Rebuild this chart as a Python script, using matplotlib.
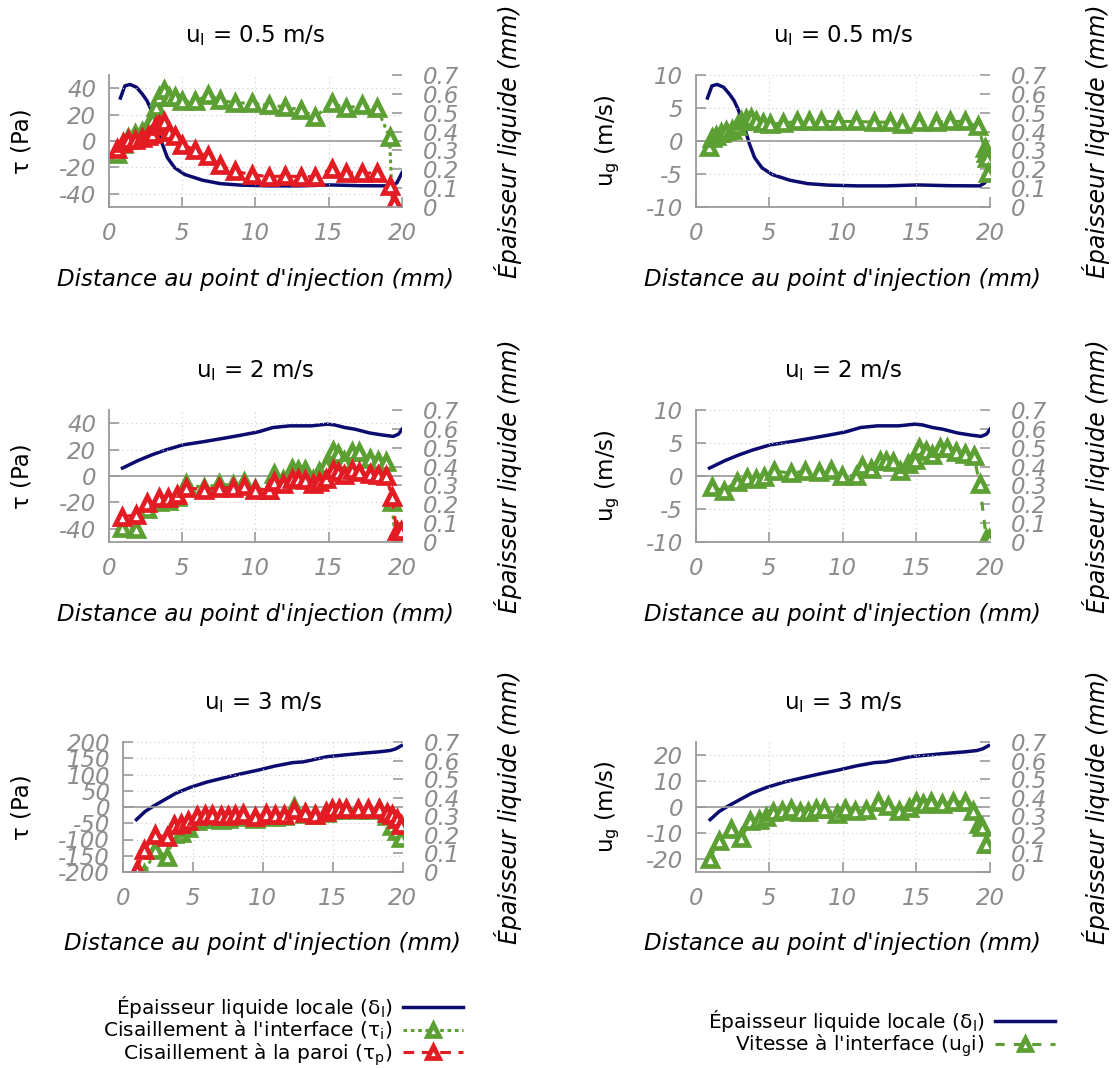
import numpy as np
import matplotlib.pyplot as plt
from matplotlib.ticker import FormatStrFormatter
from matplotlib.font_manager import FontProperties

plt.rcParams['font.family'] = 'DejaVu Sans'
plt.rcParams['mathtext.default'] = 'regular'
plt.rcParams['axes.unicode_minus'] = False

W, H = 1112, 1068

navy = '#0b0b70'
green = '#5c9f33'
red = '#e31b23'
grey = '#8c8c8c'

# ---- u_l = 0.5 m/s ----
x_delta_05 = [0.8, 1.1, 1.45, 1.9, 2.3, 2.6, 2.9, 3.3, 3.65, 4.0, 4.5, 5.2, 6.4, 7.6,
              9.0, 11.0, 13.0, 15.1, 17.2, 19.3, 19.65, 20.0]
delta_05 = [0.578, 0.642, 0.650, 0.635, 0.598, 0.565, 0.515, 0.425, 0.335, 0.262, 0.208,
            0.172, 0.142, 0.124, 0.116, 0.112, 0.112, 0.117, 0.113, 0.112, 0.128, 0.182]
x_tau_05 = [0.6, 0.95, 1.35, 1.8, 2.25, 2.65, 2.95, 3.2, 3.45, 3.75, 4.1, 4.55, 5.0, 5.9,
            6.8, 7.6, 8.6, 9.8, 10.9, 12.0, 13.1, 14.1, 15.2, 16.2, 17.25, 18.3, 19.15, 19.45]
tau_i_05 = [-10, -2, 2, 5, 7, 11, 16, 26, 33, 39, 33, 33, 30, 30,
            35, 31, 29, 28.5, 27, 26, 23.5, 18.5, 28.5, 25, 27, 25, 3, -75]
tau_p_05 = [-6, -1.5, 1, 1, 2.5, 4, 5.5, 11, 12.5, 14.5, 6.5, 4, -3, -6.5,
            -11.5, -18.5, -23, -25.5, -27, -26.5, -27, -27, -21, -24, -24, -24.5, -34, -47]
x_ug_05 = [0.88, 1.12, 1.36, 1.72, 2.08, 2.44, 2.8, 3.08, 3.4, 3.75, 4.1, 4.6, 5.07, 5.9,
           6.86, 7.7, 8.5, 9.7, 10.9, 12.1, 13.2, 14.0, 15.2, 16.3, 17.25, 18.3, 19.16,
           19.64, 19.72, 19.8, 19.85]
ug_05 = [-0.9, 0.45, 0.7, 1.2, 1.46, 1.7, 2.2, 2.96, 3.3, 3.47, 3.07, 2.8, 2.56, 2.7,
         2.96, 2.96, 2.96, 2.96, 2.96, 2.86, 2.86, 2.56, 2.86, 2.86, 2.96, 2.96, 2.2,
         -1.05, -1.8, -2.5, -4.8]

# ---- u_l = 2 m/s ----
x_delta_2 = [0.94, 2.0, 2.94, 3.88, 5.06, 6.47, 7.9, 9.06, 10.2, 11.2, 12.35, 13.8, 14.9,
             15.4, 16.1, 16.8, 17.8, 18.7, 19.4, 19.76, 20.0]
delta_2 = [0.392, 0.432, 0.462, 0.488, 0.515, 0.532, 0.551, 0.567, 0.584, 0.607, 0.616,
           0.616, 0.625, 0.621, 0.607, 0.598, 0.578, 0.567, 0.56, 0.572, 0.598]
x_tau_2 = [0.94, 1.88, 2.6, 3.45, 4.05, 4.65, 5.3, 6.47, 7.5, 8.47, 9.2, 10.0, 10.9, 11.3,
           11.9, 12.5, 12.94, 13.4, 13.9, 14.35, 14.8, 15.3, 15.65, 16.07, 16.6, 17.1,
           17.8, 18.35, 18.94, 19.3, 19.65, 19.95]
tau_i_2 = [-39.5, -40, -25, -19.5, -19, -16, -6, -8.8, -6.3, -7, -4.5, -9.5, -10.3, 1.2,
           -2.8, 5, 4.3, 4.3, -2.8, 3, 8, 19, 16.5, 11.5, 18, 18,
           13, 11.5, 10.5, -19.5, -60, -75]
tau_p_2 = [-30.8, -29.5, -20.8, -17, -16.3, -14.5, -8.8, -10.3, -8.8, -8.8, -7.8, -10.3,
           -10.3, -4.5, -5.8, -2, -2.5, -2.8, -6.3, -4.5, -2, 4.8, 3, 0.5, 4.3, 3,
           1.2, 0.5, -0.3, -15.8, -42, -42]
x_ug_2 = [1.08, 1.89, 2.8, 3.5, 4.1, 4.66, 5.3, 6.5, 7.45, 8.4, 9.2, 9.96, 10.87, 11.28,
          11.9, 12.5, 12.95, 13.4, 13.9, 14.4, 14.9, 15.2, 15.65, 16.06, 16.6, 17.1,
          17.7, 18.3, 18.9, 19.3, 19.75, 19.9]
ug_2 = [-1.7, -2.2, -0.85, -0.3, -0.45, -0.2, 0.8, 0.4, 0.8, 0.55, 0.9, 0.05, 0.05, 1.56,
        1.05, 2.2, 2.2, 2.06, 0.8, 1.8, 2.4, 4.3, 3.8, 3.2, 4.3, 4.2,
        3.57, 3.3, 3.07, -1.2, -9.5, -9.5]

# ---- u_l = 3 m/s ----
x_delta_3 = [0.98, 1.6, 2.2, 2.94, 3.8, 4.8, 6.0, 7.24, 8.47, 9.7, 10.9, 12.15, 12.9,
             14.6, 15.8, 17.05, 18.3, 19.1, 19.5, 19.9]
delta_3 = [0.282, 0.326, 0.355, 0.387, 0.424, 0.455, 0.484, 0.507, 0.529, 0.549, 0.571,
           0.589, 0.593, 0.621, 0.63, 0.639, 0.647, 0.654, 0.663, 0.68]
x_tau_3 = [1.0, 1.55, 2.33, 3.19, 3.68, 4.17, 4.66, 5.28, 5.9, 6.4, 7.0, 7.5, 8.0, 8.6,
           9.45, 10.2, 10.9, 11.5, 12.27, 13.0, 13.74, 14.5, 14.97, 15.46, 15.95, 16.8,
           17.5, 18.3, 18.9, 19.26, 19.6, 19.88]
tau_i_3 = [-280, -205, -132, -153, -84, -79, -66, -42, -37, -34, -39, -37, -32, -27,
           -37, -25, -30, -28, 0, -22, -26, -19, -10, -9, -7, -9,
           -9, -5, -28, -58, -74, -95]
tau_p_3 = [-193, -131, -87, -92, -56, -53, -42, -28, -26, -24, -28, -28, -24, -21,
           -32, -21, -26, -24, -10.5, -19, -24, -16, -7, -7, -5, -7,
           -7, -7, -18, -26, -37, -56]
x_ug_3 = [0.96, 1.56, 2.4, 3.1, 3.7, 4.3, 4.8, 5.27, 5.87, 6.47, 7.07, 7.66, 8.2, 8.74,
          9.58, 10.13, 10.85, 11.57, 12.4, 13.05, 13.8, 14.5, 14.97, 15.45, 16.0, 16.77,
          17.5, 18.3, 18.85, 19.23, 19.47, 19.76]
ug_3 = [-20, -13, -8.4, -11.8, -5.5, -5.1, -4, -2.1, -1.5, -0.7, -2, -2, -0.8, -0.7,
        -2.7, -0.7, -1.7, -1.07, 2.1, 0.2, -1.45, -0.4, 2.1, 1.1, 2.1, 1.1,
        2.1, 1.8, -1.45, -6.5, -7.8, -14.3]

titles = ['0.5', '2', '3']
x_ticks = [0, 5, 10, 15, 20]
delta_ticks = np.arange(0, 0.71, 0.1)
xlabel = "Distance au point d'injection (mm)"
delta_label = 'Épaisseur liquide (mm)'

fs = 16.5


def make_axes(fig, left, right, top, bottom):
    ax = fig.add_axes([left / W, 1 - bottom / H, (right - left) / W, (bottom - top) / H])
    ax2 = ax.twinx()
    ax.set_zorder(ax2.get_zorder() + 1)
    ax.patch.set_visible(False)
    return ax, ax2


def style_axes(ax, ax2, ylim, yticks, left, right, ylabel, ylabel_px, delta_px, title):
    width = right - left
    ax.set_xlim(0, 20)
    ax.set_xticks(x_ticks)
    ax.set_ylim(*ylim)
    ax.set_yticks(yticks)
    ax.grid(True, linestyle=(0, (1, 3)), color='#cccccc', linewidth=0.8)
    ax.axhline(0, color='#999999', linewidth=1.2, zorder=1.6)
    for side in ['top', 'right']:
        ax.spines[side].set_visible(False)
    for side in ['left', 'bottom']:
        ax.spines[side].set_color('#9a9a9a')
        ax.spines[side].set_linewidth(1.3)
    ax.tick_params(direction='in', length=7, width=1.2, color='#9a9a9a',
                   labelcolor=grey, labelsize=fs)
    ax.tick_params(axis='x', pad=11)
    ax.tick_params(axis='y', pad=9)
    ax2.set_ylim(0, 0.7)
    ax2.set_yticks(delta_ticks)
    ax2.yaxis.set_major_formatter(FormatStrFormatter('%g'))
    for s in ax2.spines.values():
        s.set_visible(False)
    ax2.tick_params(direction='in', length=7, width=1.2, color='#9a9a9a',
                    labelcolor=grey, labelsize=fs, pad=15)
    plt.setp(ax.get_xticklabels() + ax.get_yticklabels() + ax2.get_yticklabels(),
             fontstyle='italic')

    ax.set_title(r'u$_\mathregular{l}$ = ' + title + ' m/s', fontsize=fs, pad=24)
    ax.set_xlabel(xlabel, fontsize=fs, fontstyle='italic', va='center')
    ax.xaxis.set_label_coords(0.5, -0.55)
    ax.set_ylabel(ylabel, fontsize=fs, va='center')
    ax.yaxis.set_label_coords((ylabel_px - left) / width, 0.5)
    ax2.set_ylabel(delta_label, fontsize=fs + 0.5, fontstyle='italic', va='center')
    ax2.yaxis.set_label_coords((delta_px - left) / width, 0.5)


fig = plt.figure(figsize=(W / 100, H / 100), dpi=100)

marker_kw = dict(marker='^', markersize=9.5, markerfacecolor='white', markeredgewidth=3.4)

rows = [
    (titles[0], 75, 207, (108.7, 402), x_delta_05, delta_05, x_tau_05, tau_i_05, tau_p_05,
     x_ug_05, ug_05, (-50, 50), [-40, -20, 0, 20, 40], (-10, 10), [-10, -5, 0, 5, 10]),
    (titles[1], 410, 542, (108.7, 402), x_delta_2, delta_2, x_tau_2, tau_i_2, tau_p_2,
     x_ug_2, ug_2, (-50, 50), [-40, -20, 0, 20, 40], (-10, 10), [-10, -5, 0, 5, 10]),
    (titles[2], 742, 872, (122.7, 402.7), x_delta_3, delta_3, x_tau_3, tau_i_3, tau_p_3,
     x_ug_3, ug_3, (-200, 200), [-200, -150, -100, -50, 0, 50, 100, 150, 200],
     (-25, 25), [-20, -10, 0, 10, 20]),
]

legend_left = None
legend_right = None
for (title, top, bottom, (l_left, l_right), xd, d, xt, ti, tp, xu, ug,
     tlim, tticks, ulim, uticks) in rows:
    # left column: shear stress
    ax, ax2 = make_axes(fig, l_left, l_right, top, bottom)
    h_d, = ax2.plot(xd, d, color=navy, linewidth=2.5)
    h_i, = ax.plot(xt, ti, color=green, linestyle=(0, (1.2, 1.2)), linewidth=2.2,
                   markeredgecolor=green, **marker_kw)
    h_p, = ax.plot(xt, tp, color=red, linestyle=(0, (3.5, 2.5)), linewidth=2.2,
                   markeredgecolor=red, **marker_kw)
    style_axes(ax, ax2, tlim, tticks, l_left, l_right, 'τ (Pa)', 22, 508, title)
    legend_left = [h_d, h_i, h_p]

    # right column: gas velocity
    r_left, r_right = 695.7, 990
    ax, ax2 = make_axes(fig, r_left, r_right, top, bottom)
    g_d, = ax2.plot(xd, d, color=navy, linewidth=2.5)
    g_u, = ax.plot(xu, ug, color=green, linestyle=(0, (3, 3)), linewidth=2.2,
                   markeredgecolor=green, **marker_kw)
    style_axes(ax, ax2, ulim, uticks, r_left, r_right, r'u$_\mathregular{g}$ (m/s)', 608,
               1096, title)
    legend_right = [g_d, g_u]

leg_font = FontProperties(family=['DejaVu Sans Condensed', 'Liberation Sans Narrow',
                                  'DejaVu Sans'], size=14.5)
fig.legend(legend_left,
           [r'Épaisseur liquide locale (δ$_\mathregular{l}$)',
            r"Cisaillement à l'interface (τ$_\mathregular{i}$)",
            r'Cisaillement à la paroi (τ$_\mathregular{p}$)'],
           loc='upper right', bbox_to_anchor=(463 / W, 1 - 994 / H), frameon=False,
           markerfirst=False, borderpad=0, borderaxespad=0, handlelength=3.0,
           handletextpad=0.5, labelspacing=-0.05, prop=leg_font, markerscale=0.85)
fig.legend(legend_right,
           [r'Épaisseur liquide locale (δ$_\mathregular{l}$)',
            r"Vitesse à l'interface (u$_\mathregular{g}$i)"],
           loc='upper right', bbox_to_anchor=(1055 / W, 1 - 1008 / H), frameon=False,
           markerfirst=False, borderpad=0, borderaxespad=0, handlelength=3.0,
           handletextpad=0.5, labelspacing=-0.05, prop=leg_font, markerscale=0.85)

fig.savefig('out.png', dpi=100)
